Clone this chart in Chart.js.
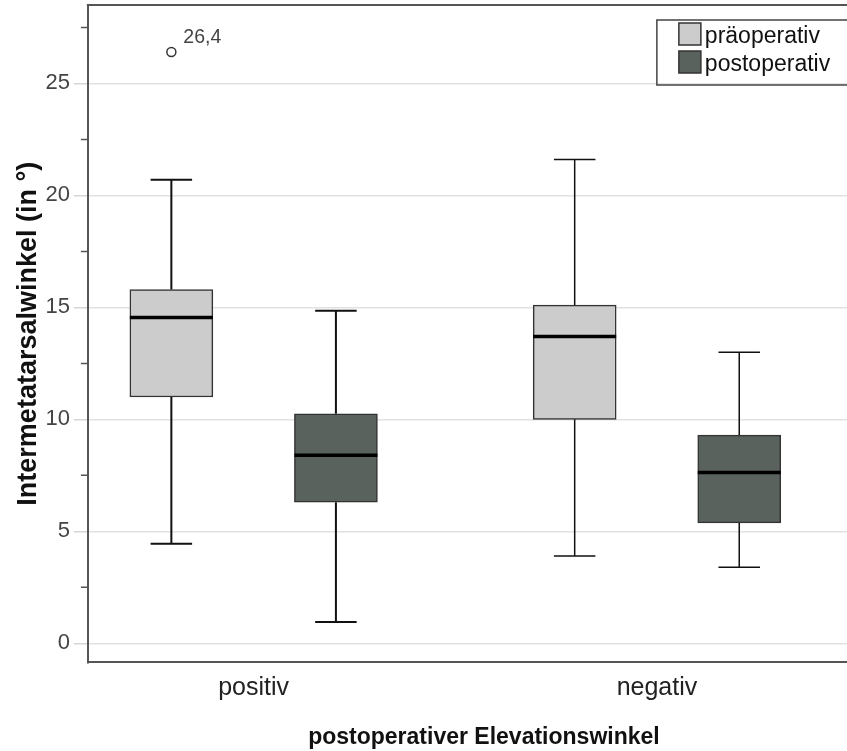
<!DOCTYPE html>
<html lang="de">
<head>
    <meta charset="UTF-8">
    <title>Intermetatarsalwinkel Boxplot</title>
    <script src="https://cdn.jsdelivr.net/npm/chart.js"></script>
    <style>
        body {
            margin: 0;
            background-color: #ffffff;
            overflow: hidden;
        }
        canvas {
            display: block;
        }
    </style>
</head>
<body>
    <canvas id="boxChart" width="880" height="751"></canvas>

    <script>
        // data
        const categories = ['positiv', 'negativ'];
        const seriesNames = ['präoperativ', 'postoperativ'];

        const preMin = [4.45, 3.9];
        const preQ1 = [11.0, 10.0];
        const preMedian = [14.55, 13.7];
        const preQ3 = [15.8, 15.1];
        const preMax = [20.7, 21.6];
        const preOutliers = [[26.4], []];

        const postMin = [0.95, 3.4];
        const postQ1 = [6.3, 5.38];
        const postMedian = [8.4, 7.63];
        const postQ3 = [10.25, 9.3];
        const postMax = [14.85, 13.0];
        const postOutliers = [[], []];

        const yTicks = [0, 5, 10, 15, 20, 25];
        const yMinorTicks = [2.5, 7.5, 12.5, 17.5, 22.5, 27.5];

        const fontFamily = "Arial, 'Liberation Sans', sans-serif";
        const groupOffset = 0.204;
        const whiskerWidth = [2, 1.5];

        const stats = [
            { min: preMin, q1: preQ1, med: preMedian, q3: preQ3, max: preMax, out: preOutliers },
            { min: postMin, q1: postQ1, med: postMedian, q3: postQ3, max: postMax, out: postOutliers }
        ];

        const boxExtras = {
            id: 'boxExtras',
            afterDatasetsDraw(chart) {
                const ctx = chart.ctx;
                const y = chart.scales.y;
                ctx.save();
                stats.forEach((s, d) => {
                    const meta = chart.getDatasetMeta(d);
                    meta.data.forEach((bar, i) => {
                        const cx = bar.x;
                        const half = bar.width / 2;
                        const cap = half / 2;
                        ctx.strokeStyle = '#111';
                        ctx.lineWidth = whiskerWidth[i];
                        ctx.beginPath();
                        ctx.moveTo(cx, y.getPixelForValue(s.q3[i]));
                        ctx.lineTo(cx, y.getPixelForValue(s.max[i]));
                        ctx.moveTo(cx - cap, y.getPixelForValue(s.max[i]));
                        ctx.lineTo(cx + cap, y.getPixelForValue(s.max[i]));
                        ctx.moveTo(cx, y.getPixelForValue(s.q1[i]));
                        ctx.lineTo(cx, y.getPixelForValue(s.min[i]));
                        ctx.moveTo(cx - cap, y.getPixelForValue(s.min[i]));
                        ctx.lineTo(cx + cap, y.getPixelForValue(s.min[i]));
                        ctx.stroke();

                        // median
                        ctx.strokeStyle = '#000';
                        ctx.lineWidth = 3.5;
                        ctx.beginPath();
                        ctx.moveTo(cx - half, y.getPixelForValue(s.med[i]));
                        ctx.lineTo(cx + half, y.getPixelForValue(s.med[i]));
                        ctx.stroke();

                        // outliers
                        s.out[i].forEach(v => {
                            const py = y.getPixelForValue(v);
                            ctx.beginPath();
                            ctx.arc(cx, py, 4.5, 0, Math.PI * 2);
                            ctx.fillStyle = '#fff';
                            ctx.fill();
                            ctx.strokeStyle = '#333';
                            ctx.lineWidth = 1.5;
                            ctx.stroke();
                            ctx.fillStyle = '#444';
                            ctx.font = '19.5px ' + fontFamily;
                            ctx.textAlign = 'left';
                            ctx.textBaseline = 'alphabetic';
                            ctx.fillText(String(v).replace('.', ','), cx + 12, py - 9);
                        });
                    });
                });
                ctx.restore();
            },
            afterDraw(chart) {
                const ctx = chart.ctx;
                const area = chart.chartArea;
                const y = chart.scales.y;
                ctx.save();

                // top frame line
                ctx.strokeStyle = '#555';
                ctx.lineWidth = 2;
                ctx.beginPath();
                ctx.moveTo(area.left - 1, area.top);
                ctx.lineTo(area.right, area.top);
                ctx.stroke();

                // minor ticks
                ctx.strokeStyle = '#555';
                ctx.lineWidth = 1.5;
                ctx.beginPath();
                yMinorTicks.forEach(v => {
                    const py = y.getPixelForValue(v);
                    ctx.moveTo(area.left - 7, py);
                    ctx.lineTo(area.left, py);
                });
                ctx.stroke();

                // legend
                const lx = area.left + 569;
                const ly = area.top + 15;
                ctx.strokeStyle = '#444';
                ctx.lineWidth = 1.5;
                ctx.strokeRect(lx, ly, area.right - lx + 10, 65);
                chart.data.datasets.forEach((ds, d) => {
                    const sy = ly + 3 + d * 28;
                    ctx.fillStyle = ds.backgroundColor;
                    ctx.fillRect(lx + 22, sy, 22, 22);
                    ctx.strokeStyle = '#333';
                    ctx.strokeRect(lx + 22, sy, 22, 22);
                    ctx.fillStyle = '#111';
                    ctx.font = '23px ' + fontFamily;
                    ctx.textAlign = 'left';
                    ctx.textBaseline = 'alphabetic';
                    ctx.fillText(ds.label, lx + 48, sy + 20);
                });
                ctx.restore();
            }
        };

        const colors = ['#cccccc', '#5a625d'];

        const datasets = stats.map((s, d) => ({
            label: seriesNames[d],
            data: categories.map((c, i) => ({
                x: i + (d === 0 ? -groupOffset : groupOffset),
                y: [s.q1[i], s.q3[i]]
            })),
            backgroundColor: colors[d],
            borderColor: '#333',
            borderWidth: 1.5,
            borderSkipped: false,
            grouped: false,
            maxBarThickness: 83,
            barPercentage: 1,
            categoryPercentage: 1
        }));

        const ctx = document.getElementById('boxChart').getContext('2d');
        new Chart(ctx, {
            type: 'bar',
            data: { datasets: datasets },
            options: {
                responsive: false,
                animation: false,
                layout: {
                    padding: { top: 5, left: 8, right: 0, bottom: 0 }
                },
                plugins: {
                    legend: { display: false },
                    tooltip: { enabled: false }
                },
                scales: {
                    x: {
                        type: 'linear',
                        offset: false,
                        min: -0.411,
                        max: 1.553,
                        afterBuildTicks: scale => {
                            scale.ticks = categories.map((c, i) => ({ value: i }));
                        },
                        ticks: {
                            autoSkip: false,
                            maxRotation: 0,
                            padding: 11,
                            color: '#222',
                            font: { size: 25, family: fontFamily },
                            callback: value => categories[value] ?? ''
                        },
                        grid: { display: false, drawTicks: false, offset: false },
                        border: { display: true, color: '#555', width: 2 },
                        title: {
                            display: true,
                            text: 'postoperativer Elevationswinkel',
                            color: '#111',
                            font: { size: 23, weight: 'bold', family: fontFamily },
                            padding: { top: 9, bottom: 0 }
                        }
                    },
                    y: {
                        min: -0.85,
                        max: 28.5,
                        afterBuildTicks: scale => {
                            scale.ticks = yTicks.map(v => ({ value: v }));
                        },
                        afterFit: scale => {
                            scale.paddingTop = 0;
                            scale.paddingBottom = 0;
                        },
                        ticks: {
                            padding: 4,
                            color: '#444',
                            font: { size: 22, family: fontFamily }
                        },
                        grid: {
                            color: '#e2e2e2',
                            tickColor: '#d6d6d6',
                            tickLength: 14,
                            lineWidth: 1.5
                        },
                        border: { display: true, color: '#555', width: 2 },
                        title: {
                            display: true,
                            text: 'Intermetatarsalwinkel (in °)',
                            color: '#111',
                            font: { size: 27, weight: 'bold', family: fontFamily },
                            padding: { top: 4, bottom: -3 }
                        }
                    }
                }
            },
            plugins: [boxExtras]
        });
    </script>
</body>
</html>
